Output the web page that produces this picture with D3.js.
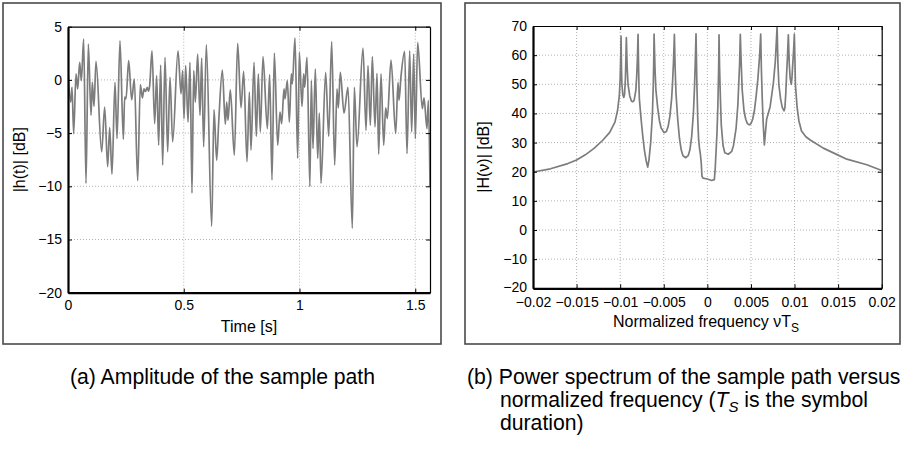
<!DOCTYPE html>
<html><head><meta charset="utf-8">
<script src="https://cdn.jsdelivr.net/npm/d3@7"></script>
<style>
body{margin:0;background:#fff;}
text{font-family:"Liberation Sans",Arial,Helvetica,sans-serif;fill:#000;}
</style></head>
<body><svg id="chart" width="910" height="450"></svg>
<script>
// ---------- data (a): amplitude of the sample path ----------
const timeValues = [0,0.0115,0.0173,0.0245,0.0346,0.0418,0.0504,0.0576,0.0677,0.0778,0.0878,0.0994,0.1051,0.1123,0.121,0.1454,0.1584,0.1713,0.18,0.19,0.203,0.2117,0.2246,0.239,0.2448,0.2506,0.2621,0.275,0.2865,0.3009,0.3125,0.3211,0.3283,0.334,0.3427,0.347,0.3528,0.3629,0.3744,0.383,0.3916,0.4003,0.4089,0.419,0.4305,0.4406,0.4521,0.4752,0.4881,0.4953,0.5011,0.5083,0.5184,0.527,0.5356,0.5429,0.5501,0.5601,0.5702,0.5774,0.586,0.5975,0.6206,0.6307,0.6422,0.6508,0.6667,0.6796,0.6854,0.6911,0.7012,0.7185,0.7329,0.7473,0.7588,0.7732,0.7833,0.7905,0.8035,0.8135,0.8222,0.8308,0.8423,0.8611,0.8711,0.8812,0.8913,0.9057,0.9158,0.923,0.933,0.9374,0.9474,0.9561,0.9647,0.969,0.9806,0.9921,0.9993,1.0108,1.018,1.0223,1.0324,1.0448,1.0511,1.0583,1.0684,1.0785,1.0857,1.0929,1.113,1.126,1.139,1.1519,1.162,1.1677,1.1764,1.1922,1.2095,1.2282,1.2369,1.2484,1.2743,1.2873,1.2959,1.306,1.3146,1.3261,1.3348,1.342,1.3521,1.3636,1.3722,1.3794,1.3953,1.4154,1.4255,1.4298,1.4384,1.4543,1.4644,1.4759,1.4845,1.4932,1.5004,1.5104,1.5306,1.5378,1.5507,1.5565,1.5637];
const amplitudeDb = [0.87,-2.09,-0.69,-5.05,0.56,-0.84,1.65,-0.06,3.83,-9.72,3.36,-3.33,-0.22,-2.49,1.74,-6.76,-2.55,-8.16,-4.49,-8.85,-0.22,-5.51,3.68,-5.58,-1.62,-1.78,1.81,-1.87,0.09,-9.47,-0.44,-1.68,-0.84,-1.09,-0.69,-1.06,-0.53,2.74,-4.11,0.4,-6.14,1.4,-8.01,2.12,-6.76,0.25,-5.83,2.74,-1.31,0.87,-3.64,1.34,-3.96,1.65,-10.65,0.87,-2.09,2.43,-3.33,2.06,-6.29,3.3,-13.77,-2.8,-7.54,-4.05,0.93,-4.17,-2.09,-3.8,-0.93,-7.07,3.43,-2.62,0.81,-7.69,-1.15,-6.6,1.65,-5.3,0.56,-4.89,2.18,-4.58,0.5,-9.41,2.52,-6.14,-3.02,-4.11,-0.84,-1.78,-0.06,-3.96,0.56,-0.37,3.93,-7.38,2.59,-2.49,0.56,-0.69,2.12,-10.03,-0.06,-6.45,1.03,-7.38,-3.12,-9.72,0.72,-5.3,3.61,-8.01,-0.84,-2.62,0.72,-3.12,-0.69,-13.93,-0.69,-6.29,2.99,-4.74,1.34,-4.27,2.18,-4.42,0.62,-6.98,0.56,-6.14,-2.62,-3.64,1.87,-5.05,-0.22,-1.93,0.31,2.68,-6.92,2.74,-4.89,2.43,-5.51,3.52,-2.71,-1.68,-4.58,-1.93,-10.03];
const timeTicks = [0,0.5,1,1.5];
const timeTickLabels = ["0","0.5","1","1.5"];
const ampTicks = [-20,-15,-10,-5,0,5];
const ampTickLabels = ["\u221220","\u221215","\u221210","\u22125","0","5"];

// ---------- data (b): power spectrum ----------
const freqValues = [-0.02,-0.018,-0.016,-0.015,-0.014,-0.013,-0.012,-0.0112,-0.0106,-0.0103,-0.0101,-0.01,-0.00993,-0.0099,
 -0.00985,-0.0098,-0.0097,-0.00959,-0.0095,-0.0094,-0.00935,-0.00929,
 -0.0092,-0.0091,-0.0089,-0.0087,-0.00856,-0.0084,-0.0082,-0.0081,-0.00802,-0.00795,
 -0.0079,-0.00785,-0.0078,-0.0076,-0.0074,-0.0072,-0.007,-0.00684,-0.0067,-0.0065,-0.0063,-0.0062,-0.00615,-0.00611,
 -0.006,-0.0059,-0.0057,-0.0055,-0.0053,-0.00497,-0.0047,-0.0045,-0.0043,-0.0041,-0.004,-0.00388,-0.00378,
 -0.0037,-0.0036,-0.0034,-0.0032,-0.003,-0.0028,-0.0025,-0.0022,-0.002,-0.0018,-0.0016,-0.0015,-0.0014,-0.0013,
 -0.0012,-0.0011,-0.001,-0.0009,-0.0008,-0.0007,-0.00062,-0.0005,0,0.0005,0.0008,0.0009,0.001,0.0011,0.0012,0.0013,0.00134,
 0.0014,0.0015,0.0016,0.0018,0.002,0.0024,0.0028,0.003,0.0033,0.0035,0.0036,0.0037,0.00378,
 0.0039,0.004,0.0042,0.0044,0.0046,0.0048,0.005,0.0052,0.0054,0.0056,0.0058,0.006,0.00612,
 0.0062,0.0063,0.0064,0.00654,0.0068,0.0072,0.00757,0.0078,0.008,
 0.0081,0.0082,0.0084,0.0086,0.0088,0.0089,0.009,0.0091,0.0092,0.00929,
 0.0094,0.0095,0.00963,0.0097,0.0098,0.0099,0.00998,
 0.01005,0.0101,0.0103,0.0105,0.0108,0.0113,0.0118,0.0133,0.015,0.016,0.0183,0.02];
const powerDb = [19.9,21.0,22.8,24.0,25.8,28.0,30.8,33.5,37,41,46,52,60,66.5,
 55,50,46.5,45.5,46.5,52,58,66,
 56,50,46,44.2,44,44.5,48,53,59,67.1,
 58,50,45,38,32,27,23.5,21.6,24,30,40,50,58,67.2,
 55,48,42,37.5,35,33.4,33.8,35.5,39,45,50,58,67.1,
 56,47,38,31.5,27.5,25.5,24.8,25.5,27.5,32,40,47,56,67.3,
 50,38,31,28,26,23,18.5,17.8,17.5,17,17.3,21,27,33,42,56,67,
 56,45,36,29,26.5,26,27,29,35,43,50,57,67.1,
 56,48,41,38,36.5,36.1,36.5,38,41,46,52,60,67.2,
 55,45,37,29.2,38,42.3,50.3,58,69.7,
 57,50,45,42,40.9,42,47,54,60,67,
 57,52,50,52,57,62,67.2,
 58,50,42,37.5,34,32,30.9,28.1,25.7,24.3,22.4,20.4];
const freqTicks = [-0.02,-0.015,-0.01,-0.005,0,0.005,0.01,0.015,0.02];
const freqTickLabels = ["\u22120.02","\u22120.015","\u22120.01","\u22120.005","0","0.005","0.01","0.015","0.02"];
const powerTicks = [-20,-10,0,10,20,30,40,50,60,70];
const powerTickLabels = ["\u221220","\u221210","0","10","20","30","40","50","60","70"];

const svg = d3.select("#chart");
const lineColor = "#7d7d7d";

function panel(cfg){
  const g = svg.append("g");
  g.append("rect").attr("x",cfg.frame[0]).attr("y",cfg.frame[1]).attr("width",cfg.frame[2]).attr("height",cfg.frame[3])
    .attr("fill","none").attr("stroke","#4a4a4a").attr("stroke-width",1.6);
  const x = d3.scaleLinear(cfg.xDomain,[cfg.left,cfg.right]);
  const y = d3.scaleLinear(cfg.yDomain,[cfg.bottom,cfg.top]);
  const id = cfg.id;
  svg.append("defs").append("clipPath").attr("id",id).append("rect")
    .attr("x",cfg.left).attr("y",cfg.top).attr("width",cfg.right-cfg.left).attr("height",cfg.bottom-cfg.top);
  const grid = g.append("g").attr("stroke","#a0a0a0").attr("stroke-width",0.8).attr("stroke-dasharray","1,2");
  cfg.xTicks.forEach(v=>{ const px=x(v); if(px>cfg.left+1 && px<cfg.right-1) grid.append("line").attr("x1",px).attr("x2",px).attr("y1",cfg.top).attr("y2",cfg.bottom);});
  cfg.yTicks.forEach(v=>{ const py=y(v); if(py>cfg.top+1 && py<cfg.bottom-1) grid.append("line").attr("y1",py).attr("y2",py).attr("x1",cfg.left).attr("x2",cfg.right);});
  const line = d3.line().x(d=>x(d[0])).y(d=>y(d[1])).curve(cfg.curve);
  g.append("path").datum(cfg.xs.map((v,i)=>[v,cfg.ys[i]])).attr("d",line).attr("clip-path",`url(#${id})`)
    .attr("fill","none").attr("stroke",lineColor).attr("stroke-width",1.7).attr("stroke-linejoin","round");
  const fmtX = d=>cfg.xLabels[cfg.xTicks.indexOf(d)];
  const fmtY = d=>cfg.yLabels[cfg.yTicks.indexOf(d)];
  const ax = g.append("g").attr("transform",`translate(0,${cfg.bottom})`)
    .call(d3.axisBottom(x).tickValues(cfg.xTicks).tickFormat(fmtX).tickSizeInner(-4).tickSizeOuter(0).tickPadding(cfg.xPad));
  const ay = g.append("g").attr("transform",`translate(${cfg.left},0)`)
    .call(d3.axisLeft(y).tickValues(cfg.yTicks).tickFormat(fmtY).tickSizeInner(-4).tickSizeOuter(0).tickPadding(6));
  const at = g.append("g").attr("transform",`translate(0,${cfg.top})`)
    .call(d3.axisTop(x).tickValues(cfg.xTicks).tickFormat("").tickSizeInner(-4).tickSizeOuter(0));
  const ar = g.append("g").attr("transform",`translate(${cfg.right},0)`)
    .call(d3.axisRight(y).tickValues(cfg.yTicks).tickFormat("").tickSizeInner(-4).tickSizeOuter(0));
  [ax,ay].forEach(a=>{a.select(".domain").attr("stroke","#000").attr("stroke-width",2.2);
    a.selectAll("text").attr("font-size",14).attr("font-family","Liberation Sans, Arial, sans-serif").attr("fill","#000");
    a.selectAll(".tick line").attr("stroke","#000").attr("stroke-width",1);});
  [at,ar].forEach(a=>{a.select(".domain").attr("stroke","#000").attr("stroke-width",1.2);
    a.selectAll(".tick line").attr("stroke","#000").attr("stroke-width",1);});
  return {g,x,y,ay};
}

const pa = panel({id:"clipA",frame:[3,3,438,341],xDomain:[0,1.5637],yDomain:[-20,5],left:68,right:430,top:26.7,bottom:292.7,xPad:7,
  xTicks:timeTicks,xLabels:timeTickLabels,yTicks:ampTicks,yLabels:ampTickLabels,xs:timeValues,ys:amplitudeDb,curve:d3.curveMonotoneX});
const pb = panel({id:"clipB",frame:[465,3,435,341],xDomain:[-0.02,0.02],yDomain:[-20,70],left:533,right:881.7,top:26,bottom:288.3,xPad:9,
  xTicks:freqTicks,xLabels:freqTickLabels,yTicks:powerTicks,yLabels:powerTickLabels,xs:freqValues,ys:powerDb,curve:d3.curveLinear});
pb.ay.selectAll(".tick").filter(d=>d===-20).select("text").attr("dy","0.2em");

// axis titles
svg.append("text").attr("x",249).attr("y",332).attr("text-anchor","middle").attr("font-size",16).text("Time [s]");
svg.append("text").attr("transform","translate(25,159.7) rotate(-90)").attr("text-anchor","middle").attr("font-size",16).text("|h(t)| [dB]");
svg.append("text").attr("transform","translate(489,157) rotate(-90)").attr("text-anchor","middle").attr("font-size",16).text("|H(\u03BD)| [dB]");
const xt = svg.append("text").attr("x",706).attr("y",327).attr("text-anchor","middle").attr("font-size",16);
xt.append("tspan").text("Normalized frequency \u03BDT");
xt.append("tspan").attr("font-size",12).attr("dy",5).text("S");

// captions
const capSize = 21.2;
svg.append("text").attr("x",70).attr("y",384).attr("font-size",capSize).text("(a) Amplitude of the sample path");
svg.append("text").attr("x",467).attr("y",384).attr("font-size",capSize).text("(b) Power spectrum of the sample path versus");
const c2 = svg.append("text").attr("x",500).attr("y",407).attr("font-size",capSize);
c2.append("tspan").text("normalized frequency (");
c2.append("tspan").attr("font-style","italic").text("T");
c2.append("tspan").attr("font-style","italic").attr("font-size",15).attr("dy",5).text("S");
c2.append("tspan").attr("dy",-5).text(" is the symbol");
svg.append("text").attr("x",500).attr("y",430).attr("font-size",capSize).text("duration)");
</script></body></html>
